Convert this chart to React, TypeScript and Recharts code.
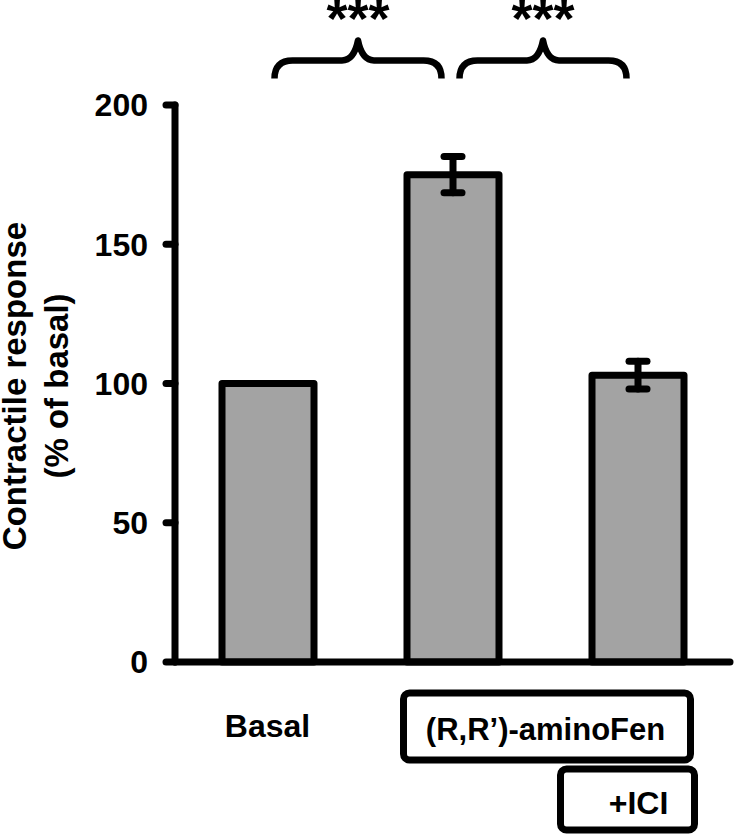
import {
  BarChart,
  Bar,
  XAxis,
  YAxis,
  ErrorBar,
  ReferenceLine,
} from "recharts";

const categories = ["Basal", "(R,R’)-aminoFen", "(R,R’)-aminoFen +ICI"];
const responses = [100, 175, 103];
const sem = [0, 6.5, 5];
const yTicks = [0, 50, 100, 150, 200];
const brackets = [
  { from: 0, to: 1, label: "***" },
  { from: 1, to: 2, label: "***" },
];
const bracketLevel = 216;

const font = "Arial, 'Liberation Sans', sans-serif";

const data = categories.map((name, i) => ({
  name,
  value: responses[i],
  err: sem[i],
}));

function XTick(props: any) {
  const { x, y, payload } = props;
  const i = payload.index;
  const textStyle = { fontFamily: font, fontWeight: 700, fontSize: 32, fill: "#000" };
  if (i === 0) {
    return (
      <text x={x} y={y + 75} textAnchor="middle" style={textStyle}>
        Basal
      </text>
    );
  }
  if (i === 1) {
    return (
      <g>
        <rect x={x - 49} y={y + 31} width={287} height={67} rx={6} fill="#fff" stroke="#000" strokeWidth={7} />
        <text x={x + 93} y={y + 78} textAnchor="middle" style={{ ...textStyle, fontSize: 31 }}>
          (R,R’)-aminoFen
        </text>
      </g>
    );
  }
  return (
    <g>
      <rect x={x - 77} y={y + 107} width={134} height={61} rx={6} fill="#fff" stroke="#000" strokeWidth={7} />
      <text x={x + 1} y={y + 152} textAnchor="middle" style={textStyle}>
        +ICI
      </text>
    </g>
  );
}

function Brace(props: any) {
  const { x1, x2, y1, label } = props;
  const a = x1 + 7;
  const b = x2 - 11;
  const m = (a + b) / 2;
  const y = y1;
  const d = [
    `M ${a} ${y + 18}`,
    `Q ${a} ${y} ${a + 18} ${y}`,
    `L ${m - 16} ${y}`,
    `Q ${m - 4} ${y} ${m} ${y - 20}`,
    `Q ${m + 4} ${y} ${m + 16} ${y}`,
    `L ${b - 18} ${y}`,
    `Q ${b} ${y} ${b} ${y + 18}`,
  ].join(" ");
  return (
    <g>
      <path d={d} fill="none" stroke="#000" strokeWidth={6.5} strokeLinecap="butt" strokeLinejoin="round" />
      <text
        x={m}
        y={y - 23}
        textAnchor="middle"
        style={{ fontFamily: font, fontWeight: 700, fontSize: 54, fill: "#000" }}
      >
        {label}
      </text>
    </g>
  );
}

function YLabel() {
  const style = { fontFamily: font, fontWeight: 700, fontSize: 33, fill: "#000" };
  return (
    <g>
      <text x={26} y={386} transform="rotate(-90, 26, 386)" textAnchor="middle" style={style}>
        Contractile response
      </text>
      <text x={68} y={386} transform="rotate(-90, 68, 386)" textAnchor="middle" style={style}>
        (% of basal)
      </text>
    </g>
  );
}

export default function App() {
  return (
    <div style={{ position: "absolute", left: 0, top: 0, background: "#fff" }}>
      <BarChart
        width={736}
        height={838}
        data={data}
        margin={{ top: 105, right: 6, bottom: 0, left: 0 }}
        barCategoryGap={0}
      >
        <XAxis
          dataKey="name"
          height={176}
          tickLine={false}
          tickSize={0}
          tickMargin={0}
          interval={0}
          axisLine={{ stroke: "#000", strokeWidth: 7, strokeLinecap: "round" }}
          tick={<XTick />}
        />
        <YAxis
          width={175}
          domain={[0, 200]}
          ticks={yTicks}
          interval={0}
          tickSize={9}
          tickMargin={18}
          axisLine={{ stroke: "#000", strokeWidth: 7, strokeLinecap: "round" }}
          tickLine={{ stroke: "#000", strokeWidth: 7, strokeLinecap: "round" }}
          tick={{ fill: "#000", fontSize: 32, fontWeight: 700, fontFamily: font }}
          label={<YLabel />}
        />
        <Bar
          dataKey="value"
          barSize={92}
          fill="#a3a3a3"
          stroke="#000"
          strokeWidth={7}
          strokeLinejoin="round"
          isAnimationActive={false}
        >
          <ErrorBar
            dataKey="err"
            width={9}
            stroke="#000"
            strokeWidth={7}
            strokeLinecap="round"
          />
        </Bar>
        {brackets.map((br, i) => (
          <ReferenceLine
            key={i}
            segment={[
              { x: categories[br.from], y: bracketLevel },
              { x: categories[br.to], y: bracketLevel },
            ]}
            ifOverflow="visible"
            shape={(p: any) => <Brace {...p} label={br.label} />}
          />
        ))}
      </BarChart>
    </div>
  );
}
